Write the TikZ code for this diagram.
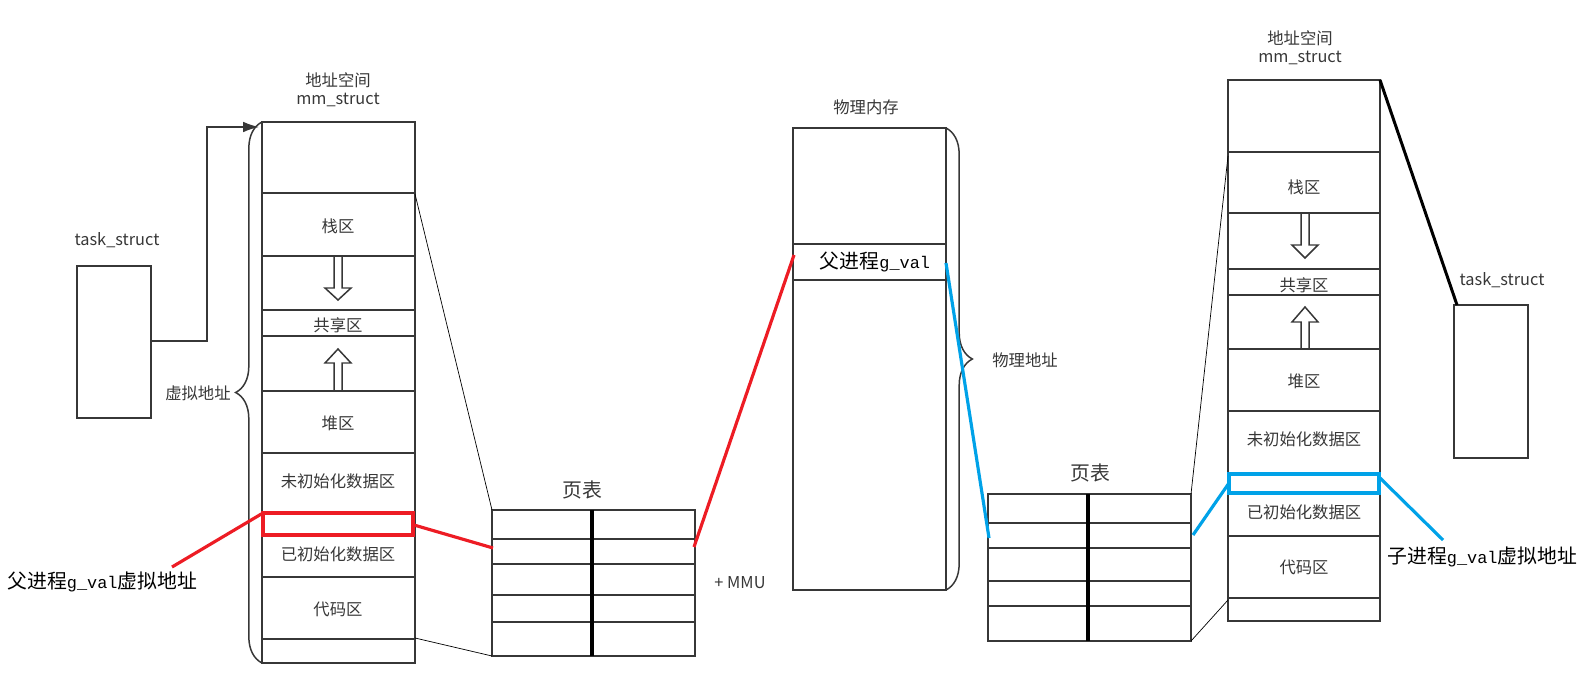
\documentclass[tikz,border=0pt]{standalone}
\usepackage{fontspec}
\setmainfont{Noto Sans CJK SC}
\newfontfamily\gvalfont[Scale=0.85]{Liberation Mono}
\usetikzlibrary{decorations.pathreplacing,arrows.meta}
\definecolor{linegray}{RGB}{55,55,55}
\definecolor{textgray}{RGB}{55,55,55}
\definecolor{pred}{RGB}{237,28,36}
\definecolor{pblue}{RGB}{0,162,232}

\begin{document}
\begin{tikzpicture}[x=0.02cm, y=-0.02cm,
  every node/.style={font=\fontsize{9.3}{11}\selectfont, text=textgray, inner sep=0pt},
  box/.style={draw=linegray, line width=0.85pt},
  thinline/.style={draw=black, line width=0.4pt},
  redline/.style={draw=pred, line width=1.8pt},
  blueline/.style={draw=pblue, line width=1.8pt},
  big/.style={font=\fontsize{11.3}{13}\selectfont, text=black}]
  \useasboundingbox (0,0) rectangle (1591,678);
  % all positions are in pixels of the original drawing, y going down

  % parent: task_struct -> mm_struct
  \coordinate (T1a) at (77,266);
  \coordinate (T1b) at (151,418);
  \coordinate (T1out) at (151,341);
  \coordinate (M1a) at (262,122);
  \coordinate (M1b) at (415,663);
  \coordinate (M1c) at (262,663);
  \coordinate (M1in) at (259,127);
  \draw[box] (T1a) rectangle (T1b);
  \node (task1) at (117,240) {task\_struct};
  \draw[box] (M1a) rectangle (M1b);
  \draw[box] (262,193) -- (415,193) (262,256) -- (415,256) (262,310) -- (415,310)
             (262,336) -- (415,336) (262,391) -- (415,391) (262,453) -- (415,453)
             (262,535) -- (415,535) (262,577) -- (415,577) (262,639) -- (415,639);
  \draw[box] (338,256) ++(-4,0) -- ++(0,32) -- ++(-9,0) -- ++(13,12) -- ++(13,-12) -- ++(-9,0) -- ++(0,-32);
  \draw[box] (338,391) ++(-4,0) -- ++(0,-28) -- ++(-9,0) -- ++(13,-14) -- ++(13,14) -- ++(-9,0) -- ++(0,28);
  \draw[box, -{Latex[length=9pt,width=6pt]}] (T1out) -| (207,127) -- (M1in);
  \draw[box, decorate, decoration={brace, amplitude=15pt}] (M1c) -- (M1a);
  \node (as1) at (338,80) {地址空间};
  \node (mm1) at (338,100) {mm\_struct};
  \node (stack1) at (338,226) {栈区};
  \node (shared1) at (338,325) {共享区};
  \node (heap1) at (338,423) {堆区};
  \node (bss1) at (338,481) {未初始化数据区};
  \node (data1) at (338,554) {已初始化数据区};
  \node (text1) at (338,609) {代码区};
  \node[anchor=east] (vaddr) at (231,393) {虚拟地址};

  % page table of the parent
  \draw[box] (492,510) rectangle (695,656);
  \draw[box] (492,539) -- (695,539) (492,564) -- (695,564) (492,595) -- (695,595) (492,622) -- (695,622);
  \draw[draw=black, line width=1.8pt] (592,510) -- (592,656);
  \node[big, text=textgray] (pt1) at (582,490) {页表};
  \node (mmu) at (740,583) {+ MMU};
  \coordinate (M1top) at (415,194);
  \coordinate (M1bot) at (415,638);
  \coordinate (P1a) at (492,510);
  \coordinate (P1b) at (492,656);
  \draw[thinline] (M1top) -- (P1a);
  \draw[thinline] (M1bot) -- (P1b);

  % physical memory
  \coordinate (PHa) at (793,128);
  \coordinate (PHb) at (946,590);
  \coordinate (PHc) at (946,128);
  \draw[box] (PHa) rectangle (PHb);
  \draw[box] (793,244) -- (946,244) (793,280) -- (946,280);
  \node (phys) at (866,107) {物理内存};
  \node[big] (pval) at (875,262) {父进程{\gvalfont g\_val}};
  \draw[box, decorate, decoration={brace, amplitude=15pt}] (PHc) -- (PHb);
  \node[anchor=west] (paddr) at (992,360) {物理地址};

  % page table of the child
  \draw[box] (988,494) rectangle (1191,641);
  \draw[box] (988,523) -- (1191,523) (988,548) -- (1191,548) (988,581) -- (1191,581) (988,606) -- (1191,606);
  \draw[draw=black, line width=1.8pt] (1088,494) -- (1088,641);
  \node[big, text=textgray] (pt2) at (1090,473) {页表};
  \coordinate (P2a) at (1191,494);
  \coordinate (P2b) at (1191,641);

  % child: mm_struct and task_struct
  \coordinate (M2a) at (1228,80);
  \coordinate (M2b) at (1380,621);
  \draw[box] (M2a) rectangle (M2b);
  \draw[box] (1228,152) -- (1380,152) (1228,213) -- (1380,213) (1228,269) -- (1380,269)
             (1228,295) -- (1380,295) (1228,349) -- (1380,349) (1228,411) -- (1380,411)
             (1228,493) -- (1380,493) (1228,536) -- (1380,536) (1228,598) -- (1380,598);
  \draw[box] (1305,213) ++(-4,0) -- ++(0,32) -- ++(-9,0) -- ++(13,13) -- ++(13,-13) -- ++(-9,0) -- ++(0,-32);
  \draw[box] (1305,349) ++(-4,0) -- ++(0,-27) -- ++(-9,0) -- ++(13,-15) -- ++(13,15) -- ++(-9,0) -- ++(0,27);
  \node (as2) at (1300,38) {地址空间};
  \node (mm2) at (1300,58) {mm\_struct};
  \node (stack2) at (1304,187) {栈区};
  \node (shared2) at (1304,285) {共享区};
  \node (heap2) at (1304,381) {堆区};
  \node (bss2) at (1304,439) {未初始化数据区};
  \node (data2) at (1304,512) {已初始化数据区};
  \node (text2) at (1304,567) {代码区};
  \coordinate (M2top) at (1228,156);
  \coordinate (M2bot) at (1228,600);
  \coordinate (M2corner) at (1380,80);
  \draw[thinline] (M2top) -- (P2a);
  \draw[thinline] (M2bot) -- (P2b);
  \coordinate (T2a) at (1454,305);
  \coordinate (T2b) at (1528,458);
  \coordinate (T2in) at (1457,305);
  \draw[box] (T2a) rectangle (T2b);
  \node (task2) at (1502,280) {task\_struct};
  \draw[draw=black, line width=1.7pt] (M2corner) -- (T2in);

  % parent g_val: red
  \draw[redline] (263,513) rectangle (413,535);
  \coordinate (R1) at (263,513);
  \coordinate (R2) at (414,525);
  \coordinate (Rp1) at (493,548);
  \coordinate (Rp2) at (694,547);
  \coordinate (Rph) at (794,255);
  \coordinate (Rlab) at (172,567);
  \draw[redline] (R1) -- (Rlab);
  \draw[redline] (R2) -- (Rp1);
  \draw[redline] (Rp2) -- (Rph);
  \node[big, anchor=west] (plabel) at (7,582) {父进程{\gvalfont g\_val}虚拟地址};

  % child g_val: blue
  \draw[blueline] (1229,474) rectangle (1379,493);
  \coordinate (B1) at (1229,483);
  \coordinate (B2) at (1380,478);
  \coordinate (Bp1) at (1193,535);
  \coordinate (Bp2) at (989,538);
  \coordinate (Bph) at (946,263);
  \coordinate (Blab) at (1443,540);
  \draw[blueline] (Bph) -- (Bp2);
  \draw[blueline] (Bp1) -- (B1);
  \draw[blueline] (B2) -- (Blab);
  \node[big, anchor=west] (clabel) at (1387,557) {子进程{\gvalfont g\_val}虚拟地址};
\end{tikzpicture}
\end{document}
